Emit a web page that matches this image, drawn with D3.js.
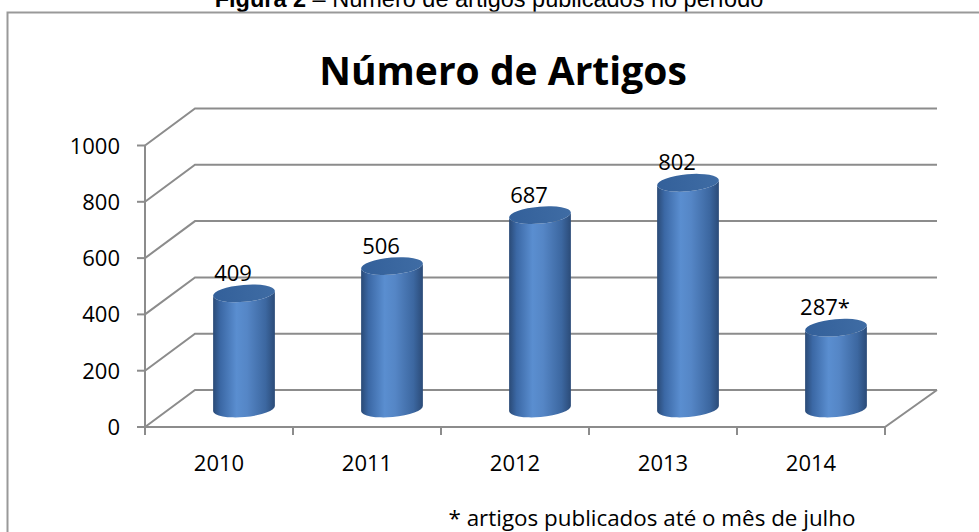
<!DOCTYPE html>
<html>
<head>
<meta charset="utf-8">
<script src="https://cdn.jsdelivr.net/npm/d3@7"></script>
<style>
  html, body { margin: 0; padding: 0; background: #fff; }
  svg { display: block; }
</style>
</head>
<body>
<div id="chart"></div>
<script>
const years = ["2010", "2011", "2012", "2013", "2014"];
const articles = [409, 506, 687, 802, 287];
const valueLabels = ["409", "506", "687", "802", "287*"];
const yTicks = [0, 200, 400, 600, 800, 1000];

const width = 979, height = 532;
const depthX = 50, depthY = -37;   // profundidade da parede do fundo
const tilt = -5;                    // inclinação das elipses

const svg = d3.select("#chart").append("svg")
  .attr("width", width)
  .attr("height", height);

const font = "'Open Sans', 'Noto Sans', sans-serif";

// gradientes do cilindro
const defs = svg.append("defs");
const bodyGrad = defs.append("linearGradient").attr("id", "body-grad")
  .attr("x1", "0%").attr("x2", "100%").attr("y1", "0%").attr("y2", "0%");
[["0%", "#2a4a76"], ["12%", "#3b68a5"], ["38%", "#5a8ed0"], ["55%", "#5586c6"], ["85%", "#3c67a0"], ["100%", "#2b4b78"]]
  .forEach(s => bodyGrad.append("stop").attr("offset", s[0]).attr("stop-color", s[1]));
const topGrad = defs.append("linearGradient").attr("id", "top-grad")
  .attr("x1", "0%").attr("x2", "100%").attr("y1", "0%").attr("y2", "0%");
[["0%", "#33609a"], ["100%", "#3f6ca4"]]
  .forEach(s => topGrad.append("stop").attr("offset", s[0]).attr("stop-color", s[1]));

// legenda da figura (cortada no topo, como no original)
svg.append("text")
  .attr("x", 489).attr("y", 7)
  .attr("text-anchor", "middle")
  .attr("font-family", "'Liberation Sans', Arial, sans-serif")
  .attr("font-size", "23.5px")
  .attr("fill", "#000")
  .call(t => {
    t.append("tspan").attr("font-weight", "bold").text("Figura 2");
    t.append("tspan").text(" – Número de artigos publicados no período");
  });

// moldura
svg.append("rect")
  .attr("x", 7.5).attr("y", 12.5)
  .attr("width", 975).attr("height", 540)
  .attr("fill", "none")
  .attr("stroke", "#999")
  .attr("stroke-width", 2);

// título
svg.append("text")
  .attr("x", 503).attr("y", 85)
  .attr("text-anchor", "middle")
  .attr("font-family", font)
  .attr("font-weight", "bold")
  .attr("font-size", "39px")
  .attr("fill", "#000")
  .text("Número de Artigos");

const x = d3.scaleBand().domain(years).range([145, 885]);
const y = d3.scaleLinear().domain([0, 1000]).range([427, 145.5]);

const gridColor = "#8c8c8c";
const grid = svg.append("g")
  .attr("fill", "none")
  .attr("stroke", gridColor)
  .attr("stroke-width", 2);

// parede do fundo + linhas de grade
yTicks.forEach(t => {
  const yy = y(t);
  grid.append("path")
    .attr("d", `M${x.range()[0]},${yy} L${x.range()[0] + depthX},${yy + depthY} L${x.range()[1] + depthX + 2},${yy + depthY}`);
});

// chão
grid.append("path")
  .attr("d", `M${x.range()[0]},${y(0)} L${x.range()[1]},${y(0)} L${x.range()[1] + depthX + 2},${y(0) + depthY}`);

// eixo Y
grid.append("line")
  .attr("x1", x.range()[0]).attr("x2", x.range()[0])
  .attr("y1", y(1000)).attr("y2", y(0));
yTicks.forEach(t => {
  grid.append("line")
    .attr("x1", x.range()[0] - 8).attr("x2", x.range()[0])
    .attr("y1", y(t)).attr("y2", y(t));
});
// marcas do eixo X
[...years.map(d => x(d)), x.range()[1]].forEach(xx => {
  grid.append("line")
    .attr("x1", xx).attr("x2", xx)
    .attr("y1", y(0)).attr("y2", y(0) + 8);
});

// rótulos do eixo Y
svg.append("g")
  .selectAll("text")
  .data(yTicks)
  .join("text")
  .attr("x", 120)
  .attr("y", d => y(d) + 8)
  .attr("text-anchor", "end")
  .attr("font-family", font)
  .attr("font-size", "22px")
  .attr("fill", "#000")
  .text(d => d);

// rótulos do eixo X
svg.append("g")
  .selectAll("text")
  .data(years)
  .join("text")
  .attr("x", d => x(d) + x.bandwidth() / 2)
  .attr("y", 471)
  .attr("text-anchor", "middle")
  .attr("font-family", font)
  .attr("font-size", "22px")
  .attr("fill", "#000")
  .text(d => d);

// cilindros
const rx = 31, ry = 8.5;
const phi = tilt * Math.PI / 180;
const ex = rx * Math.cos(phi), ey = rx * Math.sin(phi);

const bars = svg.append("g")
  .selectAll("g")
  .data(years.map((d, i) => ({ year: d, value: articles[i], label: valueLabels[i] })))
  .join("g");

bars.each(function (d) {
  const g = d3.select(this);
  const cx = x(d.year) + x.bandwidth() / 2 + depthX / 2;
  const baseY = y(0) + depthY / 2;
  const topY = y(d.value) + depthY / 2;

  g.append("path")
    .attr("fill", "url(#body-grad)")
    .attr("d", `M${cx - ex},${topY - ey} L${cx - ex},${baseY - ey}` +
      ` A${rx},${ry} ${tilt} 0 0 ${cx + ex},${baseY + ey}` +
      ` L${cx + ex},${topY + ey}` +
      ` A${rx},${ry} ${tilt} 0 1 ${cx - ex},${topY - ey} Z`);

  g.append("ellipse")
    .attr("cx", cx).attr("cy", topY)
    .attr("rx", rx).attr("ry", ry)
    .attr("transform", `rotate(${tilt},${cx},${topY})`)
    .attr("fill", "url(#top-grad)");

  g.append("text")
    .attr("x", cx - 11)
    .attr("y", topY - ry - 4)
    .attr("text-anchor", "middle")
    .attr("font-family", font)
    .attr("font-size", "22px")
    .attr("fill", "#000")
    .text(d.label);
});

// nota de rodapé
svg.append("text")
  .attr("x", 652).attr("y", 526)
  .attr("text-anchor", "middle")
  .attr("font-family", font)
  .attr("font-size", "22.4px")
  .attr("fill", "#000")
  .text("* artigos publicados até o mês de julho");
</script>
</body>
</html>
